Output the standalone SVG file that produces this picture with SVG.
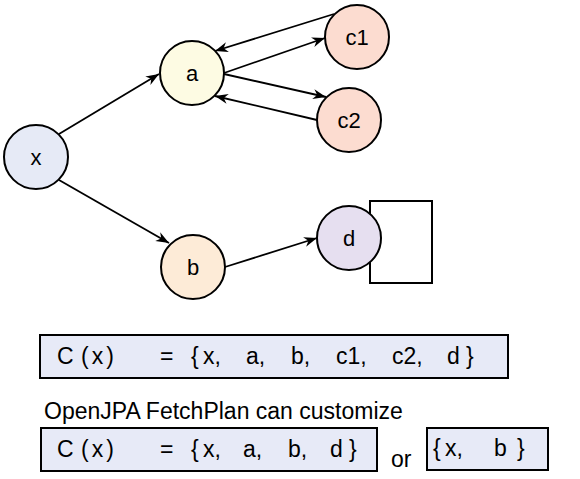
<svg xmlns="http://www.w3.org/2000/svg" width="580" height="479" viewBox="0 0 580 479">
<defs>
<marker id="arr" markerUnits="userSpaceOnUse" markerWidth="15" markerHeight="11" refX="13" refY="5" orient="auto">
<path d="M0,0 L13,5 L0,10 L4,5 z" fill="#000"/>
</marker>
</defs>
<style>
.n{stroke:#000;stroke-width:2}
.lbl{font-family:"Liberation Sans",Arial,sans-serif;font-size:22px;text-anchor:middle;fill:#000}
.e{stroke:#000;stroke-width:1.8;fill:none;marker-end:url(#arr)}
.box{fill:#e7eaf7;stroke:#000;stroke-width:2}
.t{font-family:"Liberation Sans",Arial,sans-serif;font-size:23px;fill:#000}
.px{letter-spacing:3px}
</style>
<rect width="580" height="479" fill="#fff"/>
<g id="connectors">
<line class="e" x1="59" y1="134" x2="159" y2="74"/>
<line class="e" x1="59" y1="180" x2="169" y2="243"/>
<line class="e" x1="334" y1="14" x2="215" y2="51"/>
<line class="e" x1="224" y1="73" x2="325" y2="38"/>
<line class="e" x1="224" y1="74" x2="326" y2="97"/>
<line class="e" x1="317" y1="120" x2="215" y2="96"/>
<line class="e" x1="225" y1="267" x2="317" y2="238"/>
</g>
<g id="node-x"><circle class="n" cx="36" cy="157" r="32" fill="#e6eaf6"/><text class="lbl" x="36" y="165">x</text></g>
<g id="node-a"><circle class="n" cx="192" cy="73" r="32" fill="#fdfbe3"/><text class="lbl" x="192" y="81">a</text></g>
<g id="node-b"><circle class="n" cx="193" cy="267" r="32" fill="#fdebd7"/><text class="lbl" x="193" y="275">b</text></g>
<g id="node-c1"><circle class="n" cx="357" cy="37" r="32" fill="#fcdcd0"/><text class="lbl" x="357" y="45">c1</text></g>
<g id="node-c2"><circle class="n" cx="349" cy="120" r="32" fill="#fcdcd0"/><text class="lbl" x="349" y="128">c2</text></g>
<g id="node-d"><rect x="370" y="201" width="62" height="82" fill="#fff" stroke="#000" stroke-width="2"/><circle class="n" cx="349" cy="238" r="32" fill="#e6dff0"/><text class="lbl" x="349" y="246">d</text></g>
<g id="box1"><rect class="box" x="40" y="335" width="468" height="43"/>
<text class="t" y="364"><tspan x="57">C</tspan><tspan x="81" class="px">(x)</tspan><tspan x="160">=</tspan><tspan x="191">{</tspan><tspan x="203">x,</tspan><tspan x="246">a,</tspan><tspan x="291">b,</tspan><tspan x="336">c1,</tspan><tspan x="392">c2,</tspan><tspan x="447">d</tspan><tspan x="466">}</tspan></text></g>
<text class="t" x="44" y="419">OpenJPA FetchPlan can customize</text>
<g id="box2"><rect class="box" x="41" y="428" width="336" height="43"/>
<text class="t" y="457"><tspan x="57">C</tspan><tspan x="81" class="px">(x)</tspan><tspan x="160">=</tspan><tspan x="191">{</tspan><tspan x="203">x,</tspan><tspan x="243">a,</tspan><tspan x="288">b,</tspan><tspan x="330">d</tspan><tspan x="349">}</tspan></text></g>
<text class="t" x="391" y="467">or</text>
<g id="box3"><rect class="box" x="427" y="428" width="121" height="42"/>
<text class="t" y="456"><tspan x="433">{</tspan><tspan x="445">x,</tspan><tspan x="494">b</tspan><tspan x="517">}</tspan></text></g>
</svg>
